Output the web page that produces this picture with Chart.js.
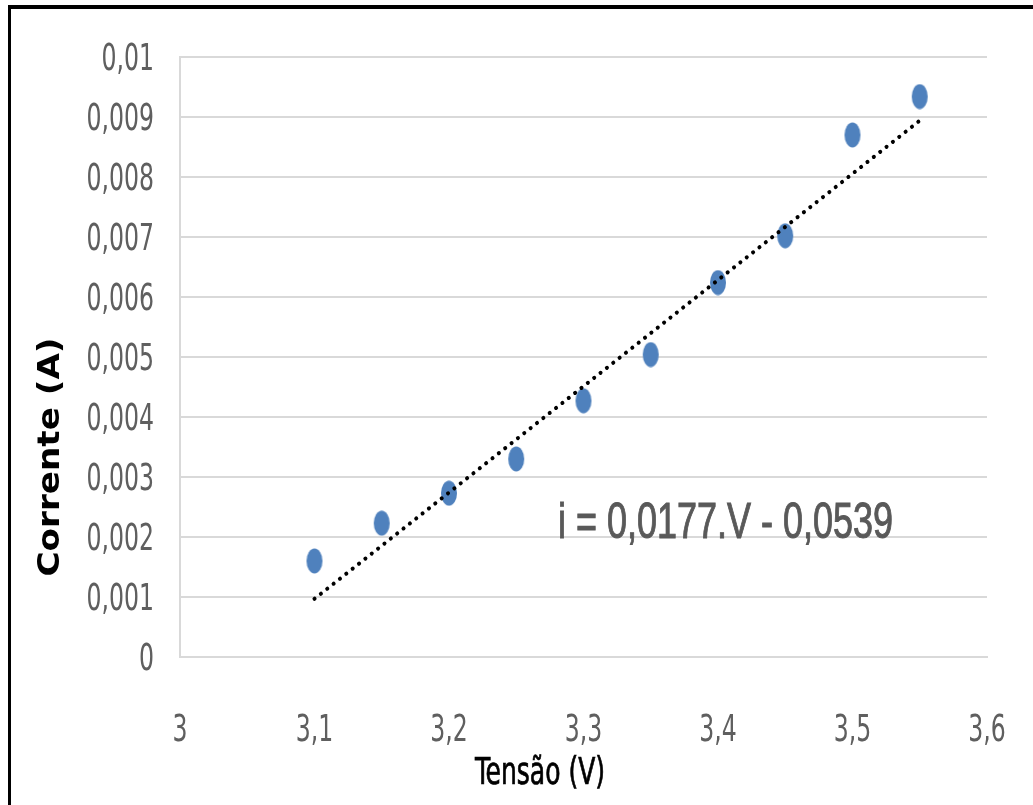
<!DOCTYPE html>
<html>
<head>
<meta charset="utf-8">
<script src="https://cdn.jsdelivr.net/npm/chart.js@4.4.1/dist/chart.umd.min.js"></script>
<style>
  html, body { margin:0; padding:0; background:#fff; }
  #wrap { position:relative; width:1033px; height:805px; }
  #frame { position:absolute; left:8px; top:5px; right:0; bottom:0;
           border-left:3px solid #000; border-top:4px solid #000; pointer-events:none; }
</style>
</head>
<body>
<div id="wrap">
  <canvas id="chart" width="1033" height="805"></canvas>
  <div id="frame"></div>
</div>
<script>
// measured points
const tensao = [3.1, 3.15, 3.2, 3.25, 3.3, 3.35, 3.4, 3.45, 3.5, 3.55];
const corrente = [0.0016, 0.00223, 0.00273, 0.0033, 0.00427, 0.00504, 0.00624, 0.00702, 0.0087, 0.00934];

// linear trendline ends (i = 0,0177.V - 0,0539)
const trendX = [3.1, 3.55];
const trendY = [0.00097, 0.00894];

const xTicks = [3, 3.1, 3.2, 3.3, 3.4, 3.5, 3.6];
const yTicks = [0, 0.001, 0.002, 0.003, 0.004, 0.005, 0.006, 0.007, 0.008, 0.009, 0.01];

const equationText = "i = 0,0177.V - 0,0539";
const xTitle = "Tensão (V)";
const yTitle = "Corrente (A)";

function fmt(v){
    return String(v).replace(".", ",");
}

// oval marker (the picture is stretched vertically)
function makeMarker(){
    const c = document.createElement("canvas");
    c.width = 18;
    c.height = 26;
    const g = c.getContext("2d");
    g.fillStyle = "#4f81bd";
    g.beginPath();
    g.ellipse(9, 13, 8, 12.5, 0, 0, Math.PI*2);
    g.fill();
    return c;
}

// draw text squeezed to a given digit width / height
function drawFit(ctx, text, x, y, opt){
    ctx.save();
    ctx.font = opt.font;
    const m = ctx.measureText(opt.ref || "0");
    const refW = m.width;
    const refH = m.actualBoundingBoxAscent;
    const sx = opt.totalW ? opt.totalW / ctx.measureText(text).width : opt.w / refW;
    const sy = opt.h / refH;
    ctx.translate(x, y);
    if(opt.rotate) ctx.rotate(opt.rotate);
    ctx.scale(sx, sy);
    ctx.fillStyle = opt.color;
    ctx.textAlign = opt.align || "center";
    ctx.textBaseline = "alphabetic";
    ctx.fillText(text, 0, refH/2);
    if(opt.stroke){
        ctx.strokeStyle = opt.color;
        ctx.lineWidth = opt.stroke;
        ctx.strokeText(text, 0, refH/2);
    }
    ctx.restore();
}

const textPlugin = {
    id:"textPlugin",
    afterDraw(chart){
        const ctx = chart.ctx;
        const xs = chart.scales.x;
        const ys = chart.scales.y;
        const tickFont = '20px "Liberation Sans Narrow", "DejaVu Sans Condensed", sans-serif';

        yTicks.forEach(v=>{
            drawFit(ctx, fmt(v), 154, ys.getPixelForValue(v), {
                font: tickFont, w: 15, h: 26, color: "#5f5f5f", align: "right"
            });
        });

        xTicks.forEach(v=>{
            drawFit(ctx, fmt(v), xs.getPixelForValue(v), 728, {
                font: tickFont, w: 15, h: 26, color: "#5f5f5f", align: "center"
            });
        });

        drawFit(ctx, equationText, xs.getPixelForValue(3.4056), ys.getPixelForValue(0.00228), {
            font: '24px "Liberation Sans", Arial, sans-serif',
            totalW: 335, h: 35, color: "#595959", align: "center", stroke: 0.5
        });

        drawFit(ctx, xTitle, 540, 771, {
            font: '20px "Liberation Sans Narrow", "DejaVu Sans Condensed", sans-serif',
            ref: "T", totalW: 130, h: 26, color: "#000", align: "center", stroke: 0.4
        });

        drawFit(ctx, yTitle, 48, 457, {
            font: 'bold 20px "DejaVu Sans", Verdana, sans-serif',
            ref: "C", totalW: 239, h: 21, color: "#000", align: "center",
            rotate: -Math.PI/2
        });
    }
};

const marker = makeMarker();

new Chart(
    document.getElementById("chart"),
    {
        type:"scatter",
        data:{
            datasets:[
            {
                label:"Corrente",
                data: tensao.map((x,i)=>({x:x, y:corrente[i]})),
                pointStyle: marker,
                pointRadius: 9,
                order: 1
            },
            {
                label:"Tendência",
                type:"line",
                data: trendX.map((x,i)=>({x:x, y:trendY[i]})),
                borderColor:"#000",
                borderWidth:4,
                borderDash:[0.1, 8],
                borderCapStyle:"round",
                pointRadius:0,
                fill:false,
                order: 0
            }
            ]
        },
        options:{
            responsive:false,
            animation:false,
            layout:{ padding:{ left:0, top:57, right:46, bottom:0 } },
            plugins:{
                legend:{ display:false },
                tooltip:{ enabled:false }
            },
            scales:{
                x:{
                    type:"linear",
                    min:3,
                    max:3.6,
                    afterFit(scale){ scale.height = 148; },
                    afterBuildTicks(scale){ scale.ticks = xTicks.map(v=>({value:v})); },
                    ticks:{ display:false },
                    grid:{ display:false },
                    border:{ display:true, color:"#d9d9d9", width:2 }
                },
                y:{
                    min:0,
                    max:0.01,
                    afterFit(scale){ scale.width = 180; },
                    afterBuildTicks(scale){ scale.ticks = yTicks.map(v=>({value:v})); },
                    ticks:{ display:false },
                    grid:{ color:"#d9d9d9", lineWidth:2, drawTicks:false },
                    border:{ display:true, color:"#d9d9d9", width:2 }
                }
            }
        },
        plugins:[textPlugin]
    }
);
</script>
</body>
</html>
